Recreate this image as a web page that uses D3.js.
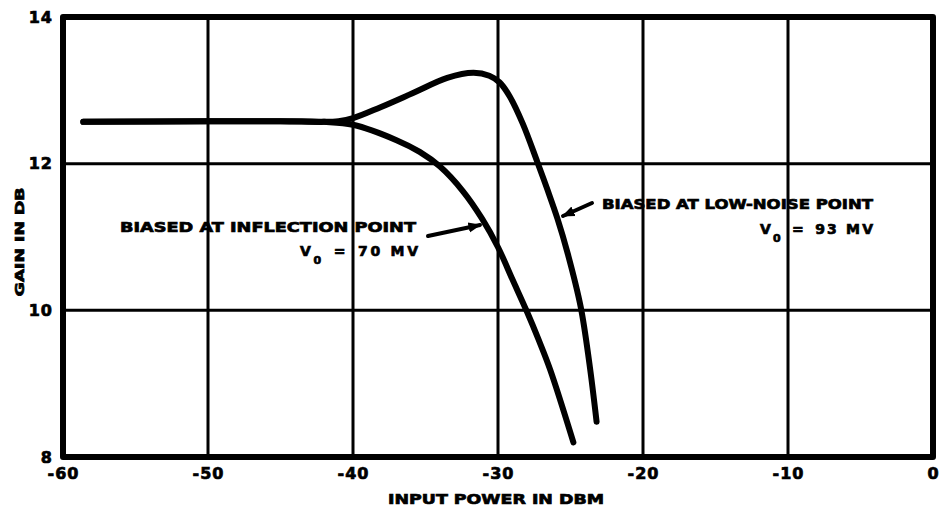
<!DOCTYPE html>
<html>
<head>
<meta charset="utf-8">
<script src="https://cdn.jsdelivr.net/npm/d3@7/dist/d3.min.js"></script>
<style>
  html, body { margin: 0; padding: 0; background: #fff; }
  svg { display: block; }
  text { font-family: "DejaVu Sans", sans-serif; font-weight: bold; fill: #000; stroke: #000; stroke-width: 0.7px; }
</style>
</head>
<body>
<svg id="chart" width="940" height="514"></svg>
<script>
// Gain vs. input power for a parametric amplifier at two bias points
const xTicks = [-60, -50, -40, -30, -20, -10, 0];
const xTickLabels = ["-60", "-50", "-40", "-30", "-20", "-10", "0"];
const yTicks = [8, 10, 12, 14];
const yTickLabels = ["8", "10", "12", "14"];

// Biased at inflection point, V0 = 70 mV  (input dBm, gain dB)
const inflectionPower = [-58.6, -50, -45, -42, -40, -37, -35.4, -34, -32.4, -31.1, -30, -29, -28, -27.2, -26.4, -24.8];
const inflectionGain  = [12.57, 12.58, 12.58, 12.57, 12.53, 12.32, 12.16, 11.96, 11.62, 11.25, 10.86, 10.42, 9.98, 9.6, 9.19, 8.2];

// Biased at low-noise point, V0 = 93 mV
const lowNoisePower = [-58.6, -50, -45, -42, -41, -40, -38.1, -35.9, -33.5, -31.7, -30.6, -29.9, -29.2, -28.3, -27.3, -26.6, -25.9, -25.2, -24.3, -23.7, -23.2];
const lowNoiseGain  = [12.57, 12.58, 12.58, 12.57, 12.58, 12.62, 12.77, 12.96, 13.17, 13.24, 13.2, 13.11, 12.92, 12.55, 12.03, 11.65, 11.25, 10.78, 10.05, 9.28, 8.48];

const svg = d3.select("#chart");

const x = d3.scaleLinear().domain([-60, 0]).range([63, 933]);
const y = d3.scaleLinear().domain([8, 14]).range([457, 17]);

// grid lines
const grid = svg.append("g").attr("stroke", "#000").attr("stroke-width", 3);
grid.selectAll("line.v")
  .data(xTicks.slice(1, -1))
  .join("line")
  .attr("x1", d => x(d)).attr("x2", d => x(d))
  .attr("y1", y(14)).attr("y2", y(8));
grid.selectAll("line.h")
  .data(yTicks.slice(1, -1))
  .join("line")
  .attr("y1", d => y(d)).attr("y2", d => y(d))
  .attr("x1", x(-60)).attr("x2", x(0));

// frame
svg.append("rect")
  .attr("x", x(-60)).attr("y", y(14))
  .attr("width", x(0) - x(-60)).attr("height", y(8) - y(14))
  .attr("fill", "none").attr("stroke", "#000").attr("stroke-width", 6)
  .attr("stroke-linejoin", "round");

// axes (labels only)
function styleTicks(g) {
  g.select(".domain").remove();
  g.selectAll("text")
    .attr("font-size", 16).attr("letter-spacing", 1)
    .style("font-family", "'DejaVu Sans', sans-serif")
    .style("font-weight", "bold")
    .style("stroke", "#000").style("stroke-width", "0.7px");
}
const xAxis = d3.axisBottom(x)
  .tickValues(xTicks)
  .tickFormat((d, i) => xTickLabels[i])
  .tickSize(0).tickPadding(11);
svg.append("g").attr("transform", `translate(0,${y(8)})`).call(xAxis).call(styleTicks);

const yAxis = d3.axisLeft(y)
  .tickValues(yTicks)
  .tickFormat((d, i) => yTickLabels[i])
  .tickSize(0).tickPadding(10);
svg.append("g").attr("transform", `translate(${x(-60)},0)`).call(yAxis).call(styleTicks);

// axis titles
svg.append("text")
  .attr("x", 496).attr("y", 504)
  .attr("text-anchor", "middle")
  .attr("font-size", 14)
  .attr("textLength", 216).attr("lengthAdjust", "spacingAndGlyphs")
  .text("INPUT POWER IN DBM");

svg.append("text")
  .attr("transform", "translate(24,242) rotate(-90)")
  .attr("text-anchor", "middle")
  .attr("font-size", 13)
  .attr("textLength", 109).attr("lengthAdjust", "spacingAndGlyphs")
  .text("GAIN IN DB");

// curves
const line = d3.line()
  .x(d => x(d[0]))
  .y(d => y(d[1]))
  .curve(d3.curveCatmullRom.alpha(0.5));

const series = [
  d3.zip(inflectionPower, inflectionGain),
  d3.zip(lowNoisePower, lowNoiseGain)
];
svg.append("g").selectAll("path")
  .data(series)
  .join("path")
  .attr("d", line)
  .attr("fill", "none")
  .attr("stroke", "#000")
  .attr("stroke-width", 6)
  .attr("stroke-linecap", "round")
  .attr("stroke-linejoin", "round");

// annotation arrows
svg.append("defs").append("marker")
  .attr("id", "head")
  .attr("viewBox", "0 0 10 10")
  .attr("refX", 9).attr("refY", 5)
  .attr("markerWidth", 3.2).attr("markerHeight", 3.2)
  .attr("orient", "auto")
  .append("path").attr("d", "M0,1 L10,5 L0,9 Z").attr("fill", "#000");

function arrow(x1, y1, x2, y2) {
  svg.append("line")
    .attr("x1", x1).attr("y1", y1).attr("x2", x2).attr("y2", y2)
    .attr("stroke", "#000").attr("stroke-width", 4)
    .attr("stroke-linecap", "round")
    .attr("marker-end", "url(#head)");
}
arrow(428, 236, 480, 225);
arrow(592, 203, 563, 216);

// annotation text
function label(xr, yc, width, str, size) {
  svg.append("text")
    .attr("x", xr - width).attr("y", yc)
    .attr("dy", "0.36em")
    .attr("font-size", size)
    .attr("textLength", width).attr("lengthAdjust", "spacingAndGlyphs")
    .text(str);
}
function voltage(xr, yc, width, value) {
  const t = svg.append("text")
    .attr("x", xr - width).attr("y", yc)
    .attr("dy", "0.36em")
    .attr("font-size", 14);
  t.append("tspan").text("V");
  t.append("tspan").attr("dy", 8).attr("font-size", 11).text("0");
  t.append("tspan").attr("dy", -8).attr("xml:space", "preserve").text("\u2002=\u2002" + value);
  const w = t.node().getComputedTextLength();
  t.attr("letter-spacing", Math.max(0, (width - w) / 9));
}

label(416, 227, 296, "BIASED AT INFLECTION POINT", 14);
voltage(418, 251, 118, "70 MV");
label(873, 203.5, 271, "BIASED AT LOW-NOISE POINT", 14);
voltage(873, 229, 113, "93 MV");
</script>
</body>
</html>
